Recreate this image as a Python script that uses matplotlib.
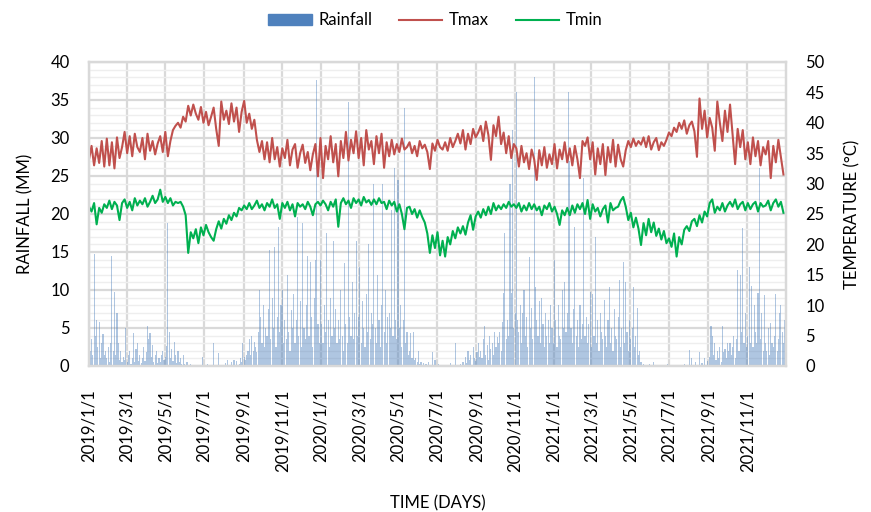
import datetime as dt

import matplotlib
matplotlib.use('Agg')
import matplotlib.pyplot as plt
from matplotlib.patches import Patch
from matplotlib.lines import Line2D

plt.rcParams['font.family'] = ['Lato', 'DejaVu Sans']

start = dt.date(2019, 1, 1)

# Tmax (deg C), one reading every 4 days, one row = 28 days
tmax_rows = [
    [34.0, 36.2, 33.0, 35.8, 33.4, 37.0, 32.8],
    [37.4, 33.0, 36.8, 32.5, 37.6, 34.2, 36.0],
    [38.5, 35.0, 37.8, 34.5, 38.2, 36.0, 35.2],
    [37.5, 34.0, 38.2, 35.4, 37.0, 34.8, 36.6],
    [37.8, 35.2, 38.5, 34.5, 37.0, 38.8, 39.5],
    [40.0, 39.2, 41.0, 40.2, 42.8, 41.2, 43.0],
    [41.5, 40.5, 42.6, 40.0, 41.8, 39.6, 41.0],
    [42.5, 39.0, 36.2, 43.5, 40.5, 42.0, 39.8],
    [43.2, 40.2, 42.5, 38.5, 41.8, 43.6, 40.0],
    [41.5, 39.0, 40.5, 37.2, 35.2, 37.0, 34.0],
    [36.8, 33.5, 37.5, 34.0, 36.0, 32.8, 35.8],
    [34.2, 37.2, 33.0, 35.6, 36.5, 32.6, 35.0],
    [36.4, 33.4, 35.2, 32.2, 34.8, 36.5, 31.2],
    [37.5, 30.9, 36.2, 34.0, 37.8, 33.5, 36.5],
    [31.2, 37.0, 34.2, 38.5, 33.8, 37.2, 35.0],
    [38.6, 34.2, 37.5, 33.0, 38.8, 35.6, 37.0],
    [33.2, 37.8, 35.0, 38.2, 32.6, 36.8, 34.5],
    [37.2, 34.8, 36.5, 35.2, 37.4, 35.6, 36.0],
    [36.8, 35.0, 36.2, 34.5, 37.0, 35.8, 36.4],
    [35.2, 32.4, 36.6, 35.4, 37.2, 36.0, 35.6],
    [36.8, 35.4, 37.5, 36.0, 37.0, 38.2, 36.6],
    [38.8, 35.6, 38.2, 36.5, 39.0, 37.6, 38.4],
    [39.5, 37.0, 40.2, 38.0, 33.9, 39.6, 37.8],
    [41.0, 36.5, 38.4, 35.0, 37.8, 34.2, 36.5],
    [35.8, 32.8, 36.2, 33.5, 35.0, 32.4, 35.6],
    [34.0, 30.6, 35.5, 33.0, 36.0, 32.6, 34.8],
    [33.2, 36.5, 32.5, 35.6, 34.0, 36.8, 33.5],
    [35.8, 33.0, 36.2, 34.0, 30.9, 37.0, 36.2],
    [37.6, 34.0, 36.8, 31.5, 35.8, 33.2, 36.5],
    [31.4, 36.0, 33.5, 37.2, 32.8, 36.4, 34.0],
    [32.8, 35.5, 37.0, 36.0, 37.4, 36.2, 37.0],
    [36.4, 37.6, 36.0, 37.8, 35.6, 36.8, 37.5],
    [35.5, 36.8, 36.2, 37.2, 38.4, 37.8, 39.2],
    [38.5, 40.0, 39.0, 40.4, 38.2, 39.6, 40.2],
    [38.6, 34.4, 44.0, 39.0, 42.0, 37.6, 40.8],
    [39.2, 35.4, 43.5, 40.0, 37.0, 42.0, 38.5],
    [43.0, 38.0, 33.2, 39.0, 36.0, 38.8, 34.0],
    [36.8, 33.2, 37.6, 34.5, 37.0, 33.0, 36.0],
    [34.8, 37.0, 30.9, 36.2, 33.5, 37.2, 34.4],
    [31.5],
]

# Tmin (deg C), same sampling
tmin_rows = [
    [26.2, 25.4, 26.8, 23.3, 26.0, 25.2, 26.6],
    [26.0, 27.2, 25.8, 27.0, 26.4, 24.0, 26.8],
    [27.4, 26.0, 27.0, 25.6, 27.6, 26.4, 27.2],
    [26.6, 27.6, 26.2, 27.0, 28.0, 26.8, 27.4],
    [29.0, 27.0, 27.8, 26.8, 27.6, 26.4, 27.0],
    [26.8, 27.0, 26.2, 24.8, 18.6, 22.0, 21.0],
    [22.5, 20.2, 22.8, 21.5, 23.2, 22.0, 21.2],
    [20.6, 22.5, 23.8, 22.6, 24.2, 23.4, 24.8],
    [24.0, 25.2, 24.6, 26.0, 25.6, 26.4, 25.8],
    [26.8, 25.8, 26.4, 27.2, 26.0, 26.6, 25.6],
    [26.8, 26.2, 27.4, 26.0, 26.6, 24.2, 26.8],
    [26.0, 27.0, 25.6, 26.6, 24.6, 26.8, 26.2],
    [26.6, 25.8, 27.0, 26.2, 24.8, 26.6, 27.0],
    [26.4, 27.2, 26.6, 25.6, 27.0, 26.2, 27.4],
    [22.9, 26.8, 27.6, 26.6, 27.2, 26.0, 27.6],
    [26.8, 27.4, 26.4, 27.8, 26.9, 27.3, 26.5],
    [27.4, 26.6, 27.6, 26.8, 27.0, 25.8, 27.2],
    [26.4, 27.0, 25.4, 26.6, 25.0, 22.5, 26.0],
    [26.2, 25.0, 25.8, 24.4, 25.6, 24.5, 23.6],
    [21.8, 18.6, 21.5, 19.4, 22.0, 18.2, 20.6],
    [18.0, 21.2, 20.0, 22.2, 21.0, 22.8, 21.8],
    [23.0, 21.6, 23.6, 24.8, 22.4, 24.6, 25.4],
    [24.4, 25.8, 24.8, 26.2, 25.0, 26.8, 25.6],
    [26.4, 25.8, 26.6, 26.0, 27.0, 26.2, 26.6],
    [26.0, 26.8, 25.4, 26.4, 25.6, 26.8, 25.8],
    [26.6, 25.6, 26.2, 24.8, 26.4, 25.8, 26.8],
    [25.4, 26.2, 25.0, 23.2, 25.6, 24.8, 26.0],
    [24.8, 26.4, 25.2, 26.6, 25.8, 26.8, 25.0],
    [27.3, 24.2, 26.6, 25.4, 26.0, 24.6, 25.8],
    [26.4, 23.6, 26.8, 25.6, 26.0, 26.2, 27.2],
    [27.8, 26.2, 24.0, 25.2, 22.8, 24.4, 22.6],
    [19.9, 23.5, 21.5, 24.2, 22.0, 23.6, 21.4],
    [22.6, 20.8, 22.2, 20.2, 21.0, 19.6, 21.8],
    [18.0, 21.2, 20.0, 22.4, 23.0, 22.2, 23.8],
    [24.2, 23.0, 24.8, 23.6, 25.4, 24.6, 26.8],
    [27.4, 25.2, 26.2, 25.6, 26.8, 25.4, 26.4],
    [27.0, 26.2, 27.4, 25.8, 26.6, 27.0, 25.6],
    [26.8, 25.8, 26.6, 27.0, 25.4, 26.8, 26.2],
    [26.4, 27.2, 25.6, 26.8, 27.4, 26.2, 27.0],
    [25.2],
]

# Rainfall (mm), one reading every 2 days, one row = 28 days
rain_rows = [
    [9.3, 2.0, 3.5, 1.5, 14.8, 4.0, 6.0, 2.5, 5.8, 1.0, 3.0, 4.2, 1.5, 2.0],
    [1.0, 2.5, 0.5, 3.0, 14.5, 2.0, 9.7, 1.5, 7.0, 3.0, 0.8, 2.0, 0.5, 1.2],
    [0.8, 5.0, 0.5, 1.5, 2.0, 0.3, 1.0, 4.4, 0.5, 2.2, 3.0, 0.6, 1.5, 0.4],
    [1.0, 2.5, 0.6, 1.8, 5.2, 3.5, 4.3, 1.2, 2.8, 0.5, 1.5, 2.0, 0.4, 1.0],
    [0.5, 1.5, 2.0, 0.8, 1.2, 2.6, 18.8, 4.5, 1.0, 2.2, 0.6, 3.2, 1.5, 0.4],
    [2.0, 0.5, 1.0, 0.3, 1.4, 0.2, 0.0, 0.5, 0.0, 0.0, 0.3, 0.0, 0.0, 0.0],
    [0.0, 0.0, 0.0, 0.0, 0.0, 1.2, 0.0, 0.0, 0.0, 0.2, 0.0, 0.0, 0.0, 0.0],
    [3.0, 0.0, 0.0, 0.0, 1.7, 0.0, 0.0, 0.0, 0.0, 0.4, 0.0, 0.8, 0.0, 0.0],
    [0.5, 0.0, 0.8, 0.0, 0.6, 0.0, 0.3, 1.0, 0.5, 3.0, 1.2, 0.8, 1.5, 2.0],
    [3.5, 1.5, 4.0, 2.0, 3.2, 2.5, 1.8, 4.5, 10.0, 6.5, 3.0, 8.0, 2.5, 5.0],
    [4.0, 7.5, 15.3, 3.5, 9.0, 5.0, 15.7, 2.5, 6.5, 18.3, 4.5, 8.0, 10.0, 3.0],
    [6.0, 3.5, 12.0, 4.5, 2.0, 7.4, 5.0, 9.5, 3.0, 6.0, 19.6, 4.0, 8.5, 2.5],
    [18.8, 5.0, 3.5, 8.0, 14.5, 4.0, 13.7, 6.5, 2.5, 9.0, 14.0, 37.6, 5.5, 3.0],
    [14.0, 5.5, 3.0, 8.0, 4.5, 17.5, 6.0, 2.5, 9.0, 4.0, 16.5, 5.0, 7.5, 3.0],
    [6.0, 3.5, 10.0, 4.0, 2.0, 13.5, 5.5, 3.0, 34.7, 6.5, 4.0, 11.0, 3.5, 7.0],
    [16.5, 4.0, 6.5, 13.0, 3.0, 8.5, 5.0, 2.5, 9.5, 4.5, 16.0, 3.5, 7.0, 5.5],
    [24.0, 5.0, 3.0, 12.0, 6.0, 2.5, 8.0, 24.0, 4.5, 10.0, 3.0, 6.5, 7.0, 5.0],
    [20.5, 4.0, 26.0, 6.0, 3.5, 24.5, 5.0, 8.0, 2.5, 6.0, 34.0, 3.0, 4.5, 1.5],
    [2.0, 4.3, 1.0, 4.5, 0.8, 1.0, 0.5, 2.0, 0.3, 0.5, 0.0, 0.4, 0.0, 0.2],
    [0.0, 0.5, 0.0, 0.0, 1.8, 0.0, 0.8, 0.0, 0.0, 0.3, 0.0, 0.0, 0.0, 0.0],
    [0.0, 0.0, 0.0, 0.0, 0.4, 0.0, 0.0, 0.0, 3.0, 0.0, 0.0, 0.0, 0.2, 0.0],
    [0.5, 0.0, 1.2, 0.4, 2.0, 0.8, 1.5, 0.0, 2.5, 1.0, 0.6, 1.8, 3.0, 1.2],
    [2.0, 1.0, 3.5, 5.2, 1.5, 2.8, 0.8, 4.0, 2.2, 3.0, 1.5, 4.5, 2.5, 3.8],
    [3.0, 4.5, 2.0, 5.8, 9.6, 17.5, 3.5, 6.0, 4.0, 24.0, 9.6, 31.0, 5.0, 7.0],
    [36.0, 6.0, 4.5, 8.0, 3.0, 7.0, 10.0, 4.0, 6.5, 2.5, 14.3, 5.0, 7.6, 3.5],
    [38.0, 10.4, 6.0, 4.0, 8.5, 3.0, 9.0, 5.5, 2.5, 7.0, 4.0, 6.0, 3.0, 8.0],
    [5.0, 3.0, 14.0, 6.0, 2.5, 8.0, 4.0, 3.5, 10.0, 5.0, 11.0, 4.5, 7.0, 36.0],
    [27.0, 5.0, 3.0, 7.5, 18.3, 4.0, 6.0, 2.5, 8.0, 3.5, 5.5, 24.7, 4.0, 6.5],
    [3.0, 5.5, 9.7, 2.5, 9.5, 4.0, 17.0, 3.0, 6.0, 2.0, 7.0, 4.5, 3.5, 8.7],
    [4.0, 2.5, 6.0, 10.4, 3.0, 5.0, 2.0, 7.5, 4.0, 3.5, 6.5, 11.3, 2.5, 5.0],
    [13.7, 3.0, 11.0, 4.5, 2.0, 6.0, 3.5, 5.0, 10.4, 2.5, 4.0, 7.6, 1.5, 2.0],
    [0.5, 0.0, 0.3, 0.0, 0.0, 0.0, 0.0, 0.2, 0.0, 0.0, 0.5, 0.0, 0.0, 0.0],
    [0.0, 0.0, 0.0, 0.0, 0.0, 0.0, 0.0, 0.3, 0.0, 0.0, 0.0, 0.0, 0.0, 0.0],
    [0.0, 0.0, 0.0, 0.0, 0.0, 0.0, 0.2, 0.0, 0.0, 0.0, 2.1, 0.0, 1.0, 0.0],
    [0.0, 0.5, 0.0, 0.0, 1.8, 0.0, 0.4, 0.0, 1.0, 0.0, 0.6, 0.0, 1.2, 5.2],
    [4.0, 1.5, 3.0, 0.8, 2.0, 1.0, 2.5, 0.5, 5.2, 1.8, 2.2, 1.0, 3.0, 2.0],
    [3.0, 1.5, 2.5, 4.0, 1.0, 3.5, 12.6, 2.0, 12.0, 4.5, 18.2, 3.0, 7.0, 2.5],
    [4.0, 13.0, 3.0, 10.5, 2.5, 8.0, 4.5, 3.0, 9.6, 26.0, 3.5, 7.0, 2.0, 9.3],
    [3.0, 2.0, 5.0, 1.5, 5.7, 3.0, 2.5, 4.0, 9.5, 2.0, 3.5, 7.0, 8.0, 4.5],
    [3.0, 6.0],
]

tick_labels = ['2019/1/1', '2019/3/1', '2019/5/1', '2019/7/1', '2019/9/1', '2019/11/1',
               '2020/1/1', '2020/3/1', '2020/5/1', '2020/7/1', '2020/9/1', '2020/11/1',
               '2021/1/1', '2021/3/1', '2021/5/1', '2021/7/1', '2021/9/1', '2021/11/1']

tmax = sum(tmax_rows, [])
tmin = sum(tmin_rows, [])
rain = sum(rain_rows, [])

t_dates = [start + dt.timedelta(days=4 * i) for i in range(len(tmax))]
r_dates = [start + dt.timedelta(days=2 * i) for i in range(len(rain))]
tick_dates = [dt.datetime.strptime(s, '%Y/%m/%d').date() for s in tick_labels]

grid_major = '#d9d9d9'
grid_minor = '#eeeeee'
c_rain = '#4f81bd'
c_tmax = '#c0504d'
c_tmin = '#00b050'

fig = plt.figure(figsize=(8.71, 5.12), dpi=100)
ax = fig.add_axes([89 / 871, 1 - 366 / 512, 697 / 871, 304 / 512])
ax2 = ax.twinx()

ax.bar(r_dates, rain, width=1.8, color=c_rain, alpha=0.45, linewidth=0, zorder=2)
ax2.plot(t_dates, tmax, color=c_tmax, linewidth=1.5)
ax2.plot(t_dates, tmin, color=c_tmin, linewidth=1.5)

ax.set_xlim(start - dt.timedelta(days=0.5), dt.date(2022, 1, 1))
ax.set_ylim(0, 40)
ax2.set_ylim(0, 50)
ax.set_yticks(range(0, 41, 5))
ax.set_yticks(range(0, 41, 1), minor=True)
ax2.set_yticks(range(0, 51, 5))
ax.set_xticks(tick_dates)
ax.set_xticklabels(tick_labels, rotation=90)

ax.set_axisbelow(True)
ax.grid(which='minor', axis='y', color=grid_minor, linewidth=1.0)
ax.grid(which='major', axis='y', color=grid_major, linewidth=1.6)
ax.grid(which='major', axis='x', color=grid_major, linewidth=1.6)

for a in (ax, ax2):
    for s in a.spines.values():
        s.set_color(grid_major)
        s.set_linewidth(1.6)
    a.tick_params(which='both', length=0, labelsize=12, colors='black')
ax.tick_params(axis='y', pad=14)
ax2.tick_params(axis='y', pad=14)
ax.tick_params(axis='x', pad=17)

ax.set_ylabel('RAINFALL (MM)', fontsize=12, labelpad=12)
ax2.set_ylabel('TEMPERATURE (°C)', fontsize=12, labelpad=14)
ax.set_xlabel('TIME (DAYS)', fontsize=12, labelpad=17)

handles = [Patch(color=c_rain), Line2D([], [], color=c_tmax, linewidth=1.5),
           Line2D([], [], color=c_tmin, linewidth=1.5)]
fig.legend(handles, ['Rainfall', 'Tmax', 'Tmin'], loc='upper center',
           bbox_to_anchor=(0.5, 1.005), ncol=3, frameon=False, fontsize=12,
           handlelength=2.6, handleheight=0.6, columnspacing=1.6, handletextpad=0.4)

fig.savefig('out.png', dpi=100)
